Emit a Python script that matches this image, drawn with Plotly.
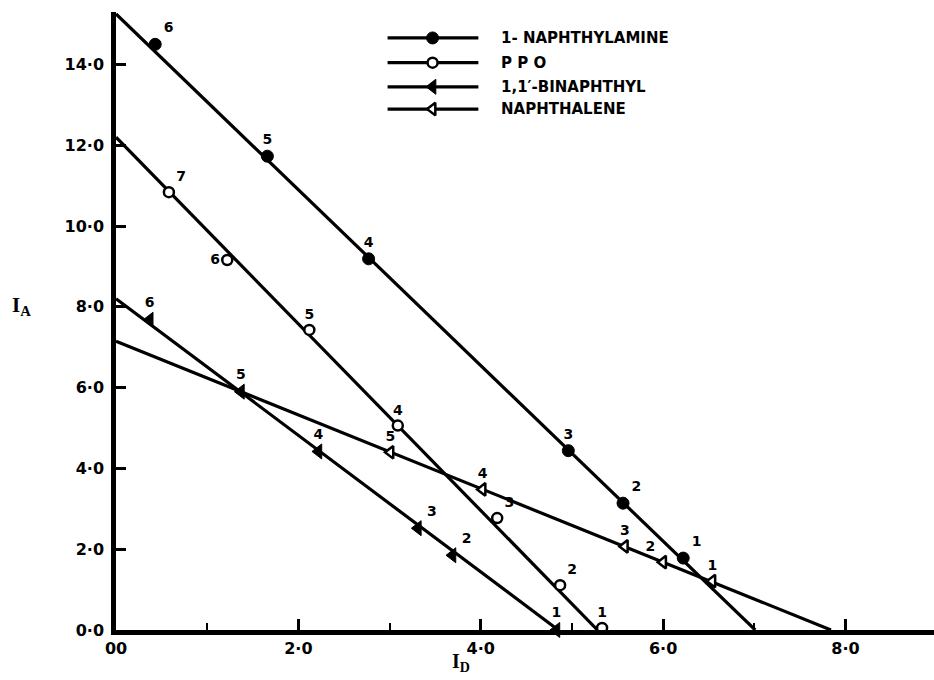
import plotly.graph_objects as go

# ---------------- data ----------------
amine_x = [6.22, 5.56, 4.96, 2.77, 1.66, 0.43]
amine_y = [1.78, 3.14, 4.44, 9.19, 11.73, 14.50]
amine_lbl = ["1", "2", "3", "4", "5", "6"]
amine_line_x = [0.0, 7.01]
amine_line_y = [15.25, 0.0]

ppo_x = [5.33, 4.87, 4.18, 3.09, 2.12, 1.22, 0.58]
ppo_y = [0.05, 1.11, 2.77, 5.06, 7.43, 9.16, 10.84]
ppo_lbl = ["1", "2", "3", "4", "5", "6", "7"]
ppo_line_x = [0.0, 5.28]
ppo_line_y = [12.2, 0.0]

binaph_x = [4.83, 3.69, 3.31, 2.22, 1.37, 0.37]
binaph_y = [0.0, 1.85, 2.52, 4.42, 5.90, 7.68]
binaph_lbl = ["1", "2", "3", "4", "5", "6"]
binaph_line_x = [0.0, 4.85]
binaph_line_y = [8.2, 0.0]

naph_x = [6.54, 6.00, 5.58, 4.02, 3.01]
naph_y = [1.21, 1.68, 2.07, 3.48, 4.40]
naph_lbl = ["1", "2", "3", "4", "5"]
naph_line_x = [0.0, 7.84]
naph_line_y = [7.15, 0.0]

legend_names = ["1- NAPHTHYLAMINE", "P P O", "1,1\u2032-BINAPHTHYL", "NAPHTHALENE"]

x_tickvals = [0, 2, 4, 6, 8]
x_ticktext = ["00", "2\u00b70", "4\u00b70", "6\u00b70", "8\u00b70"]
y_tickvals = [0, 2, 4, 6, 8, 10, 12, 14]
y_ticktext = ["0\u00b70", "2\u00b70", "4\u00b70", "6\u00b70", "8\u00b70",
              "10\u00b70", "12\u00b70", "14\u00b70"]

# ---------------- style ----------------
FONT = "DejaVu Sans"
LBL_FONT = dict(family=FONT, size=14, color="black", weight="bold")

amine_pos = ["top right", "top right", "top center", "top center", "top center", "top right"]
ppo_pos = ["top center", "top right", "top right", "top center", "top center", "middle left", "top right"]
binaph_pos = ["top center", "top right", "top right", "top center", "top center", "top center"]
naph_pos = ["top center", "top left", "top center", "top center", "top center"]

series = [
    dict(lx=amine_line_x, ly=amine_line_y, px=amine_x, py=amine_y, lbl=amine_lbl, pos=amine_pos,
         marker=dict(symbol="circle", size=12, color="black", line=dict(color="black", width=1))),
    dict(lx=ppo_line_x, ly=ppo_line_y, px=ppo_x, py=ppo_y, lbl=ppo_lbl, pos=ppo_pos,
         marker=dict(symbol="circle", size=10, color="white", line=dict(color="black", width=2.5))),
    dict(lx=binaph_line_x, ly=binaph_line_y, px=binaph_x, py=binaph_y, lbl=binaph_lbl, pos=binaph_pos,
         marker=dict(symbol="triangle-left", size=13, color="black", line=dict(color="black", width=1))),
    dict(lx=naph_line_x, ly=naph_line_y, px=naph_x, py=naph_y, lbl=naph_lbl, pos=naph_pos,
         marker=dict(symbol="triangle-left", size=11, color="white", line=dict(color="black", width=2.5))),
]

fig = go.Figure()

for s in series:
    fig.add_trace(go.Scatter(x=s["lx"], y=s["ly"], mode="lines",
                             line=dict(color="black", width=3.2), showlegend=False,
                             hoverinfo="skip", cliponaxis=False))
for s in series:
    fig.add_trace(go.Scatter(x=s["px"], y=s["py"], mode="markers+text",
                             marker=s["marker"], text=s["lbl"], textposition=s["pos"],
                             textfont=LBL_FONT, showlegend=False, cliponaxis=False))

# ---------------- hand-drawn legend (overlay axes in plot-area fractions) ----------------
leg_rows = [0.958, 0.918, 0.879, 0.843]
leg_x0, leg_xm, leg_x1, leg_tx = 0.332, 0.387, 0.443, 0.468
for name, s, yy in zip(legend_names, series, leg_rows):
    fig.add_trace(go.Scatter(x=[leg_x0, leg_x1], y=[yy, yy], mode="lines",
                             line=dict(color="black", width=3.2), xaxis="x2", yaxis="y2",
                             showlegend=False, hoverinfo="skip"))
    fig.add_trace(go.Scatter(x=[leg_xm], y=[yy], mode="markers", marker=s["marker"],
                             xaxis="x2", yaxis="y2", showlegend=False, hoverinfo="skip"))
    fig.add_annotation(x=leg_tx, y=yy, xref="x2", yref="y2", text=name, showarrow=False,
                       xanchor="left", yanchor="middle",
                       font=dict(family=FONT, size=15, color="black", weight="bold"))

# axis titles
fig.add_annotation(x=-0.115, y=0.525, xref="paper", yref="paper", showarrow=False,
                   text="<b>I</b><sub><b>A</b></sub>", xanchor="center", yanchor="middle",
                   font=dict(family="Liberation Serif", size=21, color="black"))
fig.add_annotation(x=0.422, y=-0.052, xref="paper", yref="paper", showarrow=False,
                   text="<b>I</b><sub><b>D</b></sub>", xanchor="center", yanchor="middle",
                   font=dict(family="Liberation Serif", size=20, color="black"))

fig.update_layout(
    width=934, height=680,
    margin=dict(l=116, r=0, t=12, b=50),
    paper_bgcolor="white", plot_bgcolor="white",
    showlegend=False,
    font=dict(family=FONT, color="black"),
    xaxis=dict(range=[0, 8.97], showgrid=False, zeroline=False,
               showline=True, linecolor="black", linewidth=4.5,
               tickvals=x_tickvals, ticktext=x_ticktext,
               ticks="inside", ticklen=11, tickwidth=3, tickcolor="black",
               tickfont=dict(family=FONT, size=16, color="black", weight="bold"),
               minor=dict(tickvals=[1, 3, 5, 7], ticks="inside", ticklen=7,
                          tickwidth=2, tickcolor="black")),
    yaxis=dict(range=[0, 15.3], showgrid=False, zeroline=False,
               showline=True, linecolor="black", linewidth=4.5,
               tickvals=y_tickvals, ticktext=y_ticktext,
               ticks="inside", ticklen=10, tickwidth=3, tickcolor="black",
               ticklabelstandoff=4,
               tickfont=dict(family=FONT, size=16, color="black", weight="bold")),
    xaxis2=dict(range=[0, 1], overlaying="x", visible=False, fixedrange=True),
    yaxis2=dict(range=[0, 1], overlaying="y", visible=False, fixedrange=True),
)

fig.write_html("out.html")
